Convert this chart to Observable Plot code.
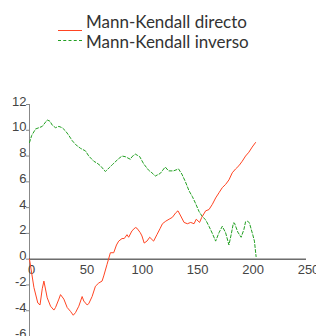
<!DOCTYPE html>
<html>
<head>
<meta charset="utf-8">
<script src="https://cdn.jsdelivr.net/npm/d3@7"></script>
<script src="https://cdn.jsdelivr.net/npm/@observablehq/plot@0.6"></script>
<style>
  html, body { margin: 0; padding: 0; background: #fff; }
  #legend { position: relative; width: 316px; height: 60px; font-family: Lato, "Open Sans", sans-serif; color: #333; }
  #legend .txt { position: absolute; left: 86px; top: 12px; font-size: 17px; line-height: 20px; white-space: nowrap; }
  #legend .sw { position: absolute; left: 58px; width: 24px; height: 0; }
</style>
</head>
<body>
<div id="legend">
  <div class="sw" style="top:30px;border-top:1px solid #ff4422;"></div>
  <div class="sw" style="top:40px;border-top:1px dashed #22a022;"></div>
  <div class="txt">Mann-Kendall directo<br>Mann-Kendall inverso</div>
</div>
<div id="chart"></div>
<script>
const seriesNames = ["Mann-Kendall directo", "Mann-Kendall inverso"];

const directoT = [0,4,7.5,9.5,11.5,13,16,19,22,23.5,26.5,28,31,34,37,39.5,41.5,44.5,47.5,49,52,53.5,56.5,59.5,62.5,65.5,67,70,73,76,78.5,80.5,83.5,85.5,88,89.5,92.5,95.5,97,100,101.5,103.5,106,108.5,112,115,118,120,123,126,129,132,134,136.5,139.5,142.5,145.5,148.5,150.5,153.5,155.5,159,162,165,168,171,174,177,180,183,186,189,192,195,198,201,204];
const directoV = [0,-2.2,-3.4,-3.55,-2.3,-1.7,-3.0,-3.65,-3.95,-3.75,-3.1,-2.75,-3.1,-3.75,-4.05,-4.35,-4.15,-3.65,-2.9,-3.25,-3.55,-3.45,-2.9,-2.1,-1.85,-1.7,-1.3,-0.4,0.5,0.5,1.1,1.4,1.6,1.6,1.9,1.7,2.2,2.45,2.4,2.05,1.8,1.25,1.4,1.7,1.4,1.9,2.4,2.75,2.95,3.1,3.25,3.6,3.75,3.35,2.85,2.75,2.85,2.75,3.1,2.85,3.25,3.75,3.85,4.25,4.75,5.15,5.55,5.8,6.15,6.7,7.0,7.25,7.6,8.0,8.3,8.7,9.05];

const inversoT = [0,2,5.5,8.5,11.5,16,18.5,20.5,23.5,26.5,29.5,32.5,35.5,38.5,41.5,46,50.5,53.5,58,61,64,66.5,68.5,72,75,78,80.5,83.5,86.5,91,92.5,95.5,99.5,103,107.5,110.5,113.5,118,122.5,125.5,130,134.5,137.5,140.5,144,147,150,153,156,159,162,165,168,171,174,177,180,182,184,185,188,191,193.5,195,197,198.5,201.5,203,204.5];
const inversoV = [9.05,9.6,10.1,10.2,10.3,10.8,10.7,10.4,10.2,10.3,10.2,9.95,9.6,9.2,8.9,8.6,8.4,8.0,7.6,7.45,7.25,7.0,6.8,7.1,7.35,7.6,7.8,8.0,7.95,7.75,7.95,8.15,7.95,7.4,6.9,6.7,6.45,6.65,7.15,6.85,6.85,7.0,6.6,6.05,5.3,4.85,4.3,3.7,3.3,3.05,2.55,2.0,1.4,2.05,2.55,2.05,1.1,1.9,2.8,2.8,2.1,1.7,2.3,2.9,2.95,2.8,1.9,1.4,0.2];

const xTicks = [0, 50, 100, 150, 200, 250];
const yTicks = [-6, -4, -2, 0, 2, 4, 6, 8, 10, 12];

const directo = directoT.map((t, i) => ({t, v: directoV[i], s: seriesNames[0]}));
const inverso = inversoT.map((t, i) => ({t, v: inversoV[i], s: seriesNames[1]}));

const fmt = d => String(d);

const chart = Plot.plot({
  width: 316,
  height: 276,
  marginLeft: 29,
  marginRight: 10,
  marginTop: 44,
  marginBottom: 0,
  style: {fontFamily: "'Liberation Sans', Arial, sans-serif", background: "#fff", overflow: "visible"},
  x: {domain: [0, 250], axis: null},
  y: {domain: [-6, 12], axis: null},
  marks: [
    Plot.ruleX([0], {y1: -6, y2: 12, stroke: "#888", strokeWidth: 1}),
    Plot.ruleY(yTicks, {x1: 0, x2: 0, insetLeft: -3, stroke: "#888"}),
    Plot.text(yTicks, {x: 0, y: d => d, text: fmt, textAnchor: "end", lineAnchor: "bottom", dx: -3, dy: 1, fontSize: 13, fill: "#444"}),
    Plot.ruleY([0], {x1: 0, x2: 250, stroke: "#222", strokeWidth: 1}),
    Plot.text(xTicks, {x: d => d, y: 0, text: fmt, lineAnchor: "top", dy: 6, dx: 2, fontSize: 13, fill: "#444"}),
    Plot.line(inverso, {x: "t", y: "v", stroke: "#22a022", strokeWidth: 1, strokeDasharray: "3,2"}),
    Plot.line(directo, {x: "t", y: "v", stroke: "#ff4422", strokeWidth: 1})
  ]
});
document.getElementById("chart").appendChild(chart);
</script>
</body>
</html>
